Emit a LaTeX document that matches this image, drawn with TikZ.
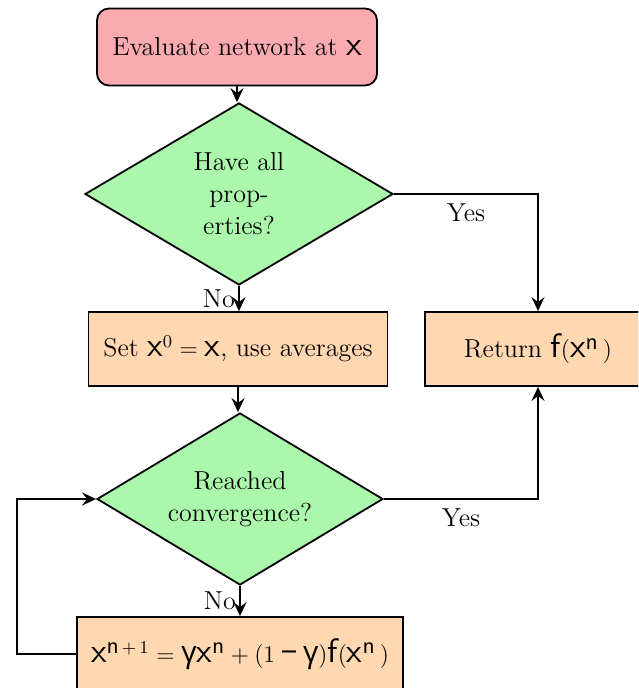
\documentclass[tikz,border=0pt]{standalone}
\usepackage{amsmath}
\usepackage{fontspec}
\setsansfont[Scale=1.3]{lmsans10-regular.otf}
\newfontfamily\sfgreek[Scale=1.15]{Open Sans}
\usetikzlibrary{shapes.geometric,arrows.meta}
\definecolor{pinkfill}{HTML}{FBABAF}
\definecolor{greenfill}{HTML}{ABF7AB}
\definecolor{peachfill}{HTML}{FFD7B1}
\newcommand{\vx}{\mathsf{x}}
\newcommand{\vf}{\mathsf{f}}
\newcommand{\vn}{\mathsf{n}}
\newcommand{\sgam}{\text{\sfgreek γ}}
\newcommand{\sminus}{\mathbin{\text{\sfgreek −}}}
\begin{document}
\begin{tikzpicture}[x=0.5pt,y=-0.5pt,
  every node/.style={font=\fontsize{13}{16}\selectfont},
  base/.style={draw=black, line width=0.9pt},
  startbox/.style={base, rectangle, rounded corners=6pt, fill=pinkfill, minimum width=140pt, minimum height=38.5pt},
  procbox/.style={base, rectangle, fill=peachfill, minimum height=37pt, inner sep=0pt},
  decision/.style={base, diamond, fill=greenfill, inner sep=0pt, align=center, aspect=1.66},
  conn/.style={line width=1.2pt, -{Stealth[length=7pt,width=6.5pt,inset=2.5pt]}},
  lbl/.style={inner sep=1.5pt}
]
\useasboundingbox (0,0) rectangle (638,688);
\clip (0,0) rectangle (638,688);
\node[startbox] (eval) at (237,47) {Evaluate network at $\vx$};
\node[decision, minimum width=154pt, minimum height=91pt] (props) at (239,194) {Have all\\prop-\\erties?};
\node[procbox, minimum width=149.5pt] (setx) at (238,349) {Set $\vx^0 = \vx$, use averages};
\node[procbox, minimum width=113pt] (ret) at (538,349) {Return $\vf(\vx^{\vn}\,)$};
\node[decision, minimum width=143pt, minimum height=86pt] (conv) at (240,499) {Reached\\convergence?};
\node[procbox, minimum width=163pt] (upd) at (240,654) {$\vx^{\vn\mskip3mu+\mskip3mu1} = \sgam\vx^{\vn} + (1 \sminus \sgam)\vf(\vx^{\vn}\,)$};
\coordinate (loop) at (17,654);

\draw[conn] (eval.south) -- (eval.south |- props.north);
\draw[conn] (props.south) -- node[lbl, left] {No} (props.south |- setx.north);
\draw[conn] (props.east) -| node[lbl, pos=0.25, below=3pt] {Yes} (ret.north);
\draw[conn] (setx.south) -- (setx.south |- conv.north);
\draw[conn] (conv.east) -| node[lbl, pos=0.25, below=3pt] {Yes} (ret.south);
\draw[conn] (conv.south) -- node[lbl, left] {No} (conv.south |- upd.north);
\draw[conn] (upd.west) -- (loop) |- (conv.west);
\end{tikzpicture}
\end{document}
